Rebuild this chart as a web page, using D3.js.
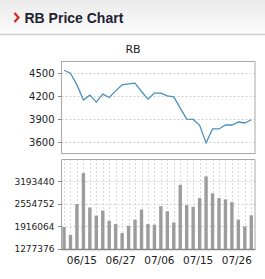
<!DOCTYPE html>
<html>
<head>
<meta charset="utf-8">
<script src="https://cdn.jsdelivr.net/npm/d3@7"></script>
<style>
  body { margin: 0; background: #fff; }
  svg { display: block; font-family: "DejaVu Sans", sans-serif; }
</style>
</head>
<body>
<div id="chart"></div>
<script>
// 30 trading days, oldest first
var prices = [4539, 4500, 4347, 4148, 4213, 4122, 4226, 4182, 4269, 4347,
  4360, 4370, 4260, 4161, 4239, 4239, 4204, 4191, 4043, 3900,
  3895, 3817, 3587, 3770, 3770, 3822, 3822, 3861, 3848, 3891];

var volumes = [1898876, 1678000, 2546000, 3425000, 2452000, 2222000, 2366000, 2071000, 1985000, 1727000,
  1936000, 2108000, 2394000, 1985000, 1965000, 2489000, 2346000, 2031000, 3090000, 2518000,
  2472000, 2718000, 3331000, 2853000, 2718000, 2681000, 2603000, 2108000, 1916000, 2231000];

var priceTicks = [4500, 4200, 3900, 3600];
var volumeTicks = [1277376, 1916064, 2554752, 3193440];
var dateLabels = ["06/15", "06/27", "07/06", "07/15", "07/26"];
var dateIndex = [3, 9, 15, 21, 27];

PriceChart = function(_parentElement) {
  this.parentElement = _parentElement;
  this.width = 265;
  this.height = 279;
  this.initVis();
};

PriceChart.prototype.initVis = function() {
  var vis = this;

  vis.svg = d3.select(vis.parentElement).append("svg")
    .attr("width", vis.width)
    .attr("height", vis.height);

  vis.drawHeader();

  vis.idx = d3.range(prices.length);
  vis.x = d3.scaleBand().domain(vis.idx).range([60.8, 254.5]);

  vis.yPrice = d3.scaleLinear().domain([3455, 4660]).range([153, 61]);
  vis.yVol = d3.scaleLinear().domain([1277376, 3832128]).range([249, 158.7]);

  vis.drawPrice();
  vis.drawVolume();
};

PriceChart.prototype.drawHeader = function() {
  var vis = this;

  var grad = vis.svg.append("defs").append("linearGradient")
    .attr("id", "hdr").attr("x1", 0).attr("y1", 0).attr("x2", 0).attr("y2", 1);
  grad.append("stop").attr("offset", "0%").attr("stop-color", "#ebebeb");
  grad.append("stop").attr("offset", "100%").attr("stop-color", "#fbfbfb");

  vis.svg.append("rect")
    .attr("x", 0).attr("y", 0)
    .attr("width", vis.width).attr("height", 34)
    .attr("fill", "url(#hdr)");

  vis.svg.append("line")
    .attr("x1", 0).attr("x2", vis.width)
    .attr("y1", 34.5).attr("y2", 34.5)
    .attr("stroke", "#cfcfcf")
    .attr("stroke-width", 1.5);

  // red chevron
  vis.svg.append("path")
    .attr("d", "M14.5,13 L18.5,17.5 L14.5,22")
    .attr("fill", "none")
    .attr("stroke", "#d9261c")
    .attr("stroke-width", 2.2);

  vis.svg.append("text")
    .attr("x", 24.5).attr("y", 22.5)
    .attr("font-family", "'Liberation Sans', Arial, sans-serif")
    .attr("font-weight", "bold")
    .attr("font-size", "14px")
    .attr("fill", "#1f2233")
    .text("RB Price Chart");

  vis.svg.append("text")
    .attr("x", 133).attr("y", 53)
    .attr("text-anchor", "middle")
    .attr("font-size", "11px")
    .attr("fill", "#222")
    .text("RB");
};

PriceChart.prototype.drawPrice = function() {
  var vis = this;
  var x0 = 61.5, x1 = 255;

  vis.svg.selectAll(".pgrid")
    .data(priceTicks)
    .enter().append("line")
    .attr("class", "pgrid")
    .attr("x1", x0).attr("x2", x1)
    .attr("y1", function(d) { return Math.round(vis.yPrice(d)) + 0.5; })
    .attr("y2", function(d) { return Math.round(vis.yPrice(d)) + 0.5; })
    .attr("stroke", "#cfcfcf")
    .attr("stroke-dasharray", "2,2");

  vis.svg.append("rect")
    .attr("x", x0).attr("y", 61.5)
    .attr("width", x1 - x0).attr("height", 92)
    .attr("fill", "none")
    .attr("stroke", "#a8a8a8");

  vis.svg.selectAll(".ptick")
    .data(priceTicks)
    .enter().append("line")
    .attr("class", "ptick")
    .attr("x1", 58).attr("x2", x0)
    .attr("y1", function(d) { return Math.round(vis.yPrice(d)) + 0.5; })
    .attr("y2", function(d) { return Math.round(vis.yPrice(d)) + 0.5; })
    .attr("stroke", "#888");

  vis.svg.selectAll(".plabel")
    .data(priceTicks)
    .enter().append("text")
    .attr("class", "plabel")
    .attr("x", 54.5)
    .attr("y", function(d) { return vis.yPrice(d) + 3.6; })
    .attr("text-anchor", "end")
    .attr("font-size", "10px")
    .attr("fill", "#222")
    .text(function(d) { return d; });

  var line = d3.line()
    .x(function(d, i) { return vis.x(i) + vis.x.bandwidth() / 2; })
    .y(function(d) { return vis.yPrice(d); });

  vis.svg.append("path")
    .datum(prices)
    .attr("d", line)
    .attr("fill", "none")
    .attr("stroke", "#4a90bd")
    .attr("stroke-width", 1.3);
};

PriceChart.prototype.drawVolume = function() {
  var vis = this;
  var x0 = 61.5, x1 = 255;
  var cx = function(i) { return Math.round(vis.x(i) + vis.x.bandwidth() / 2) + 0.5; };

  vis.svg.selectAll(".vvert")
    .data(vis.idx)
    .enter().append("line")
    .attr("class", "vvert")
    .attr("x1", cx).attr("x2", cx)
    .attr("y1", 159).attr("y2", 249)
    .attr("stroke", "#d8d8d8")
    .attr("stroke-dasharray", "2,2");

  vis.svg.selectAll(".vgrid")
    .data(volumeTicks.slice(1))
    .enter().append("line")
    .attr("class", "vgrid")
    .attr("x1", x0).attr("x2", x1)
    .attr("y1", function(d) { return Math.round(vis.yVol(d)) + 0.5; })
    .attr("y2", function(d) { return Math.round(vis.yVol(d)) + 0.5; })
    .attr("stroke", "#cfcfcf")
    .attr("stroke-dasharray", "2,2");

  vis.svg.selectAll(".bar")
    .data(volumes)
    .enter().append("rect")
    .attr("class", "bar")
    .attr("x", function(d, i) { return vis.x(i) + vis.x.bandwidth() / 2 - 1.7; })
    .attr("width", 3.4)
    .attr("y", function(d) { return vis.yVol(d); })
    .attr("height", function(d) { return vis.yVol(1277376) - vis.yVol(d); })
    .attr("fill", "#9c9c9c");

  // frame: left, top, right
  vis.svg.append("path")
    .attr("d", "M" + x0 + ",249 V159.5 H" + x1 + " V249")
    .attr("fill", "none")
    .attr("stroke", "#a8a8a8");

  vis.svg.append("line")
    .attr("x1", x0 - 0.5).attr("x2", x1 + 0.5)
    .attr("y1", 249.5).attr("y2", 249.5)
    .attr("stroke", "#8a8a8a")
    .attr("stroke-width", 1.5);

  vis.svg.selectAll(".vtick")
    .data(volumeTicks)
    .enter().append("line")
    .attr("class", "vtick")
    .attr("x1", 58).attr("x2", x0)
    .attr("y1", function(d) { return Math.round(vis.yVol(d)) + 0.5; })
    .attr("y2", function(d) { return Math.round(vis.yVol(d)) + 0.5; })
    .attr("stroke", "#888");

  vis.svg.selectAll(".vlabel")
    .data(volumeTicks)
    .enter().append("text")
    .attr("class", "vlabel")
    .attr("x", 54.5)
    .attr("y", function(d) { return vis.yVol(d) + 3.3; })
    .attr("text-anchor", "end")
    .attr("font-size", "9px")
    .attr("fill", "#222")
    .text(function(d) { return d; });

  vis.svg.selectAll(".xlabel")
    .data(dateLabels)
    .enter().append("text")
    .attr("class", "xlabel")
    .attr("x", function(d, i) { return vis.x(dateIndex[i]) + vis.x.bandwidth() / 2 - 1.5; })
    .attr("y", 264)
    .attr("text-anchor", "middle")
    .attr("font-size", "10.5px")
    .attr("fill", "#222")
    .text(function(d) { return d; });
};

var chart = new PriceChart("#chart");
</script>
</body>
</html>
